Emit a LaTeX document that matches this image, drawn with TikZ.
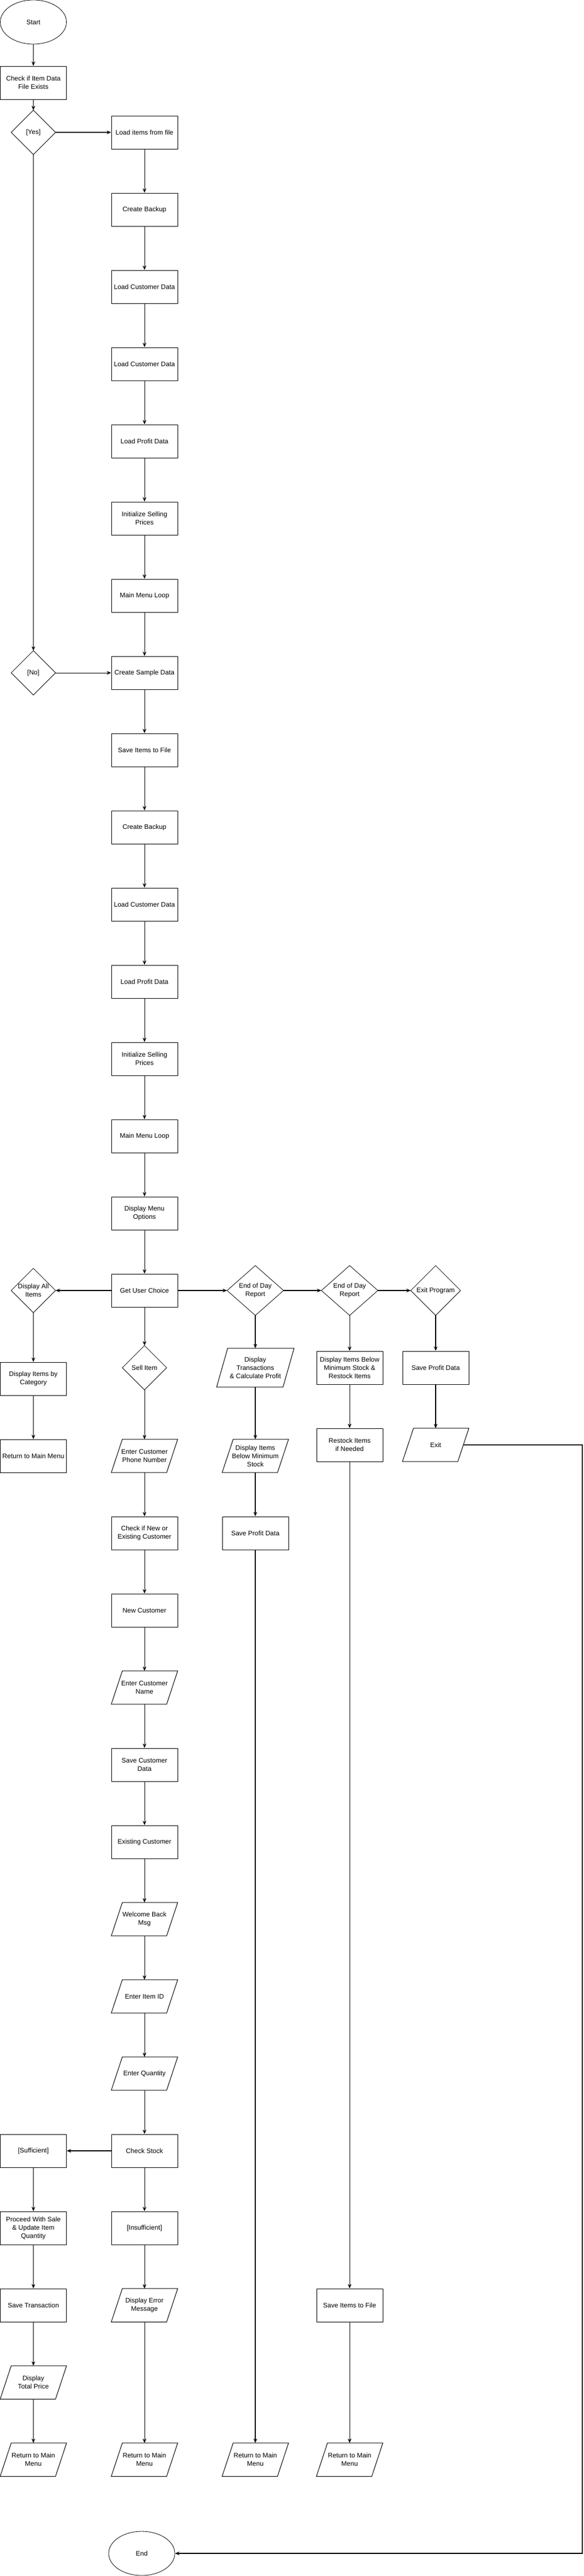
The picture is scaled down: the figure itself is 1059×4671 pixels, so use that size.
\documentclass[tikz,border=0pt]{standalone}
\usepackage{fontspec}
\setmainfont{Liberation Sans}
\usetikzlibrary{shapes.geometric,arrows.meta}
\newcommand\flowfont{\fontsize{12}{15}\selectfont}
\tikzset{
  box/.style={draw, line width=1pt, rectangle, minimum width=120pt, minimum height=60pt, inner sep=0pt, align=center, font=\flowfont},
  slot/.style={rectangle, minimum width=120pt, minimum height=60pt, inner sep=0pt, align=center, font=\flowfont},
  term/.style={draw, line width=0.8pt, ellipse, minimum width=120pt, minimum height=80pt, inner sep=0pt, font=\flowfont},
  paraline/.style={draw, line width=1pt, line join=miter},
  diamline/.style={draw, line width=0.8pt},
  arr/.style={draw, line width=0.75pt, -{Stealth[length=8pt,width=6.5pt]}},
  tarr/.style={draw, line width=1.3pt, -{Stealth[length=8pt,width=6.5pt]}},
}
\begin{document}
\begin{tikzpicture}[x=1pt,y=-1pt]
\fill[white] (0,0) rectangle (1059,4671);
\useasboundingbox (0,0) rectangle (1059,4671);

% ---------- left column ----------
\node[term] (start) at (60.5,40) {Start};
\node[box] (cif) at (60.5,150) {Check if Item Data\\File Exists};
\node[slot, minimum width=80pt, minimum height=80pt] (yes) at (60.5,240) {[Yes]};
\node[slot, minimum width=80pt, minimum height=80pt] (no) at (60.5,1220) {[No]};
\node[slot, minimum width=80pt, minimum height=80pt] (dai) at (60.5,2340) {Display All\\Items};
\node[box] (dic) at (60.5,2500) {Display Items by\\Category};
\node[box] (rmm) at (60.5,2640) {Return to Main Menu};
\node[box] (suf) at (60.5,3900) {[Sufficient]};
\node[box] (pws) at (60.5,4040) {Proceed With Sale\\\& Update Item\\Quantity};
\node[box] (st) at (60.5,4180) {Save Transaction};
\node[slot] (dtp) at (60.5,4320) {Display\\Total Price};
\node[slot] (rm1) at (60.5,4460) {Return to Main\\Menu};

% ---------- main column ----------
\node[box] (lif) at (262,240) {Load items from file};
\node[box] (cb1) at (262,380) {Create Backup};
\node[box] (lcd1) at (262,520) {Load Customer Data};
\node[box] (lcd2) at (262,660) {Load Customer Data};
\node[box] (lpd1) at (262,800) {Load Profit Data};
\node[box] (isp1) at (262,940) {Initialize Selling\\Prices};
\node[box] (mml1) at (262,1080) {Main Menu Loop};
\node[box] (csd) at (262,1220) {Create Sample Data};
\node[box] (sif1) at (262,1360) {Save Items to File};
\node[box] (cb2) at (262,1500) {Create Backup};
\node[box] (lcd3) at (262,1640) {Load Customer Data};
\node[box] (lpd2) at (262,1780) {Load Profit Data};
\node[box] (isp2) at (262,1920) {Initialize Selling\\Prices};
\node[box] (mml2) at (262,2060) {Main Menu Loop};
\node[box] (dmo) at (262,2200) {Display Menu\\Options};
\node[box] (guc) at (262,2340) {Get User Choice};
\node[slot, minimum width=80pt, minimum height=80pt] (sell) at (262,2480) {Sell Item};
\node[slot] (phone) at (262,2640) {Enter Customer\\Phone Number};
\node[box] (chk) at (262,2780) {Check if New or\\Existing Customer};
\node[box] (newc) at (262,2920) {New Customer};
\node[slot] (ename) at (262,3060) {Enter Customer\\Name};
\node[box] (scd) at (262,3200) {Save Customer\\Data};
\node[box] (exc) at (262,3340) {Existing Customer};
\node[slot] (wb) at (262,3480) {Welcome Back\\Msg};
\node[slot] (eid) at (262,3620) {Enter Item ID};
\node[slot] (eqty) at (262,3760) {Enter Quantity};
\node[box] (cs) at (262,3900) {Check Stock};
\node[box] (insuf) at (262,4040) {[Insufficient]};
\node[slot] (derr) at (262,4180) {Display Error\\Message};
\node[slot] (rm2) at (262,4460) {Return to Main\\Menu};
\node[term] (endn) at (257,4630) {End};

% ---------- end of day column ----------
\node[slot, minimum width=102pt, minimum height=90pt] (eod1) at (463,2340) {End of Day\\Report};
\node[slot, minimum width=140pt, minimum height=70pt] (dtc) at (463,2480) {Display\\Transactions\\\& Calculate Profit};
\node[slot] (dib) at (463,2640) {Display Items\\Below Minimum\\Stock};
\node[box] (spd1) at (463,2780) {Save Profit Data};
\node[slot] (rm3) at (463,4460) {Return to Main\\Menu};

% ---------- restock column ----------
\node[slot, minimum width=102pt, minimum height=90pt] (eod2) at (634,2340) {End of Day\\Report};
\node[box] (dibr) at (634,2480) {Display Items Below\\Minimum Stock \&\\Restock Items};
\node[box] (rin) at (634,2620) {Restock Items\\if Needed};
\node[box] (sif2) at (634,4180) {Save Items to File};
\node[slot] (rm4) at (634,4460) {Return to Main\\Menu};

% ---------- exit column ----------
\node[slot, minimum width=90pt, minimum height=90pt] (exitp) at (790,2340) {Exit Program};
\node[box] (spd2) at (790,2480) {Save Profit Data};
\node[slot] (exitn) at (790,2620) {Exit};
\coordinate (rc) at (1056,2620);

% ---------- diamond outlines ----------
\foreach \n in {yes,no,dai,sell,eod1,eod2,exitp}
  \draw[diamline] (\n.north) -- (\n.east) -- (\n.south) -- (\n.west) -- cycle;

% ---------- parallelogram outlines ----------
\foreach \n in {dtp,rm1,phone,ename,wb,eid,eqty,derr,rm2,dtc,dib,rm3,rm4,exitn}
  \draw[paraline] ([xshift=20pt]\n.north west) -- (\n.north east) -- ([xshift=-20pt]\n.south east) -- (\n.south west) -- cycle;

% ---------- thin vertical connectors ----------
\foreach \a/\b in {start/cif, cif/yes, yes/no,
  lif/cb1, cb1/lcd1, lcd1/lcd2, lcd2/lpd1, lpd1/isp1, isp1/mml1, mml1/csd, csd/sif1,
  sif1/cb2, cb2/lcd3, lcd3/lpd2, lpd2/isp2, isp2/mml2, mml2/dmo, dmo/guc,
  dai/dic, dic/rmm,
  guc/sell, sell/phone, phone/chk, chk/newc, newc/ename, ename/scd, scd/exc, exc/wb, wb/eid, eid/eqty, eqty/cs,
  cs/insuf, insuf/derr, derr/rm2,
  suf/pws, pws/st, st/dtp, dtp/rm1,
  eod2/dibr, dibr/rin, rin/sif2, sif2/rm4}
  \draw[arr] (\a.south) -- (\b.north);

% ---------- thick vertical connectors ----------
\foreach \a/\b in {eod1/dtc, dtc/dib, dib/spd1, spd1/rm3, exitp/spd2, spd2/exitn}
  \draw[tarr] (\a.south) -- (\b.north);

% ---------- horizontal connectors ----------
\draw[tarr] (yes.east) -- (lif.west);
\draw[arr] (no.east) -- (csd.west);
\draw[tarr] (guc.west) -- (dai.east);
\draw[tarr] (guc.east) -- (eod1.west);
\draw[tarr] (eod1.east) -- (eod2.west);
\draw[tarr] (eod2.east) -- (exitp.west);
\draw[tarr] (cs.west) -- (suf.east);
\draw[tarr] ([xshift=-10pt]exitn.east) -- (rc) |- (endn.east);
\end{tikzpicture}
\end{document}
